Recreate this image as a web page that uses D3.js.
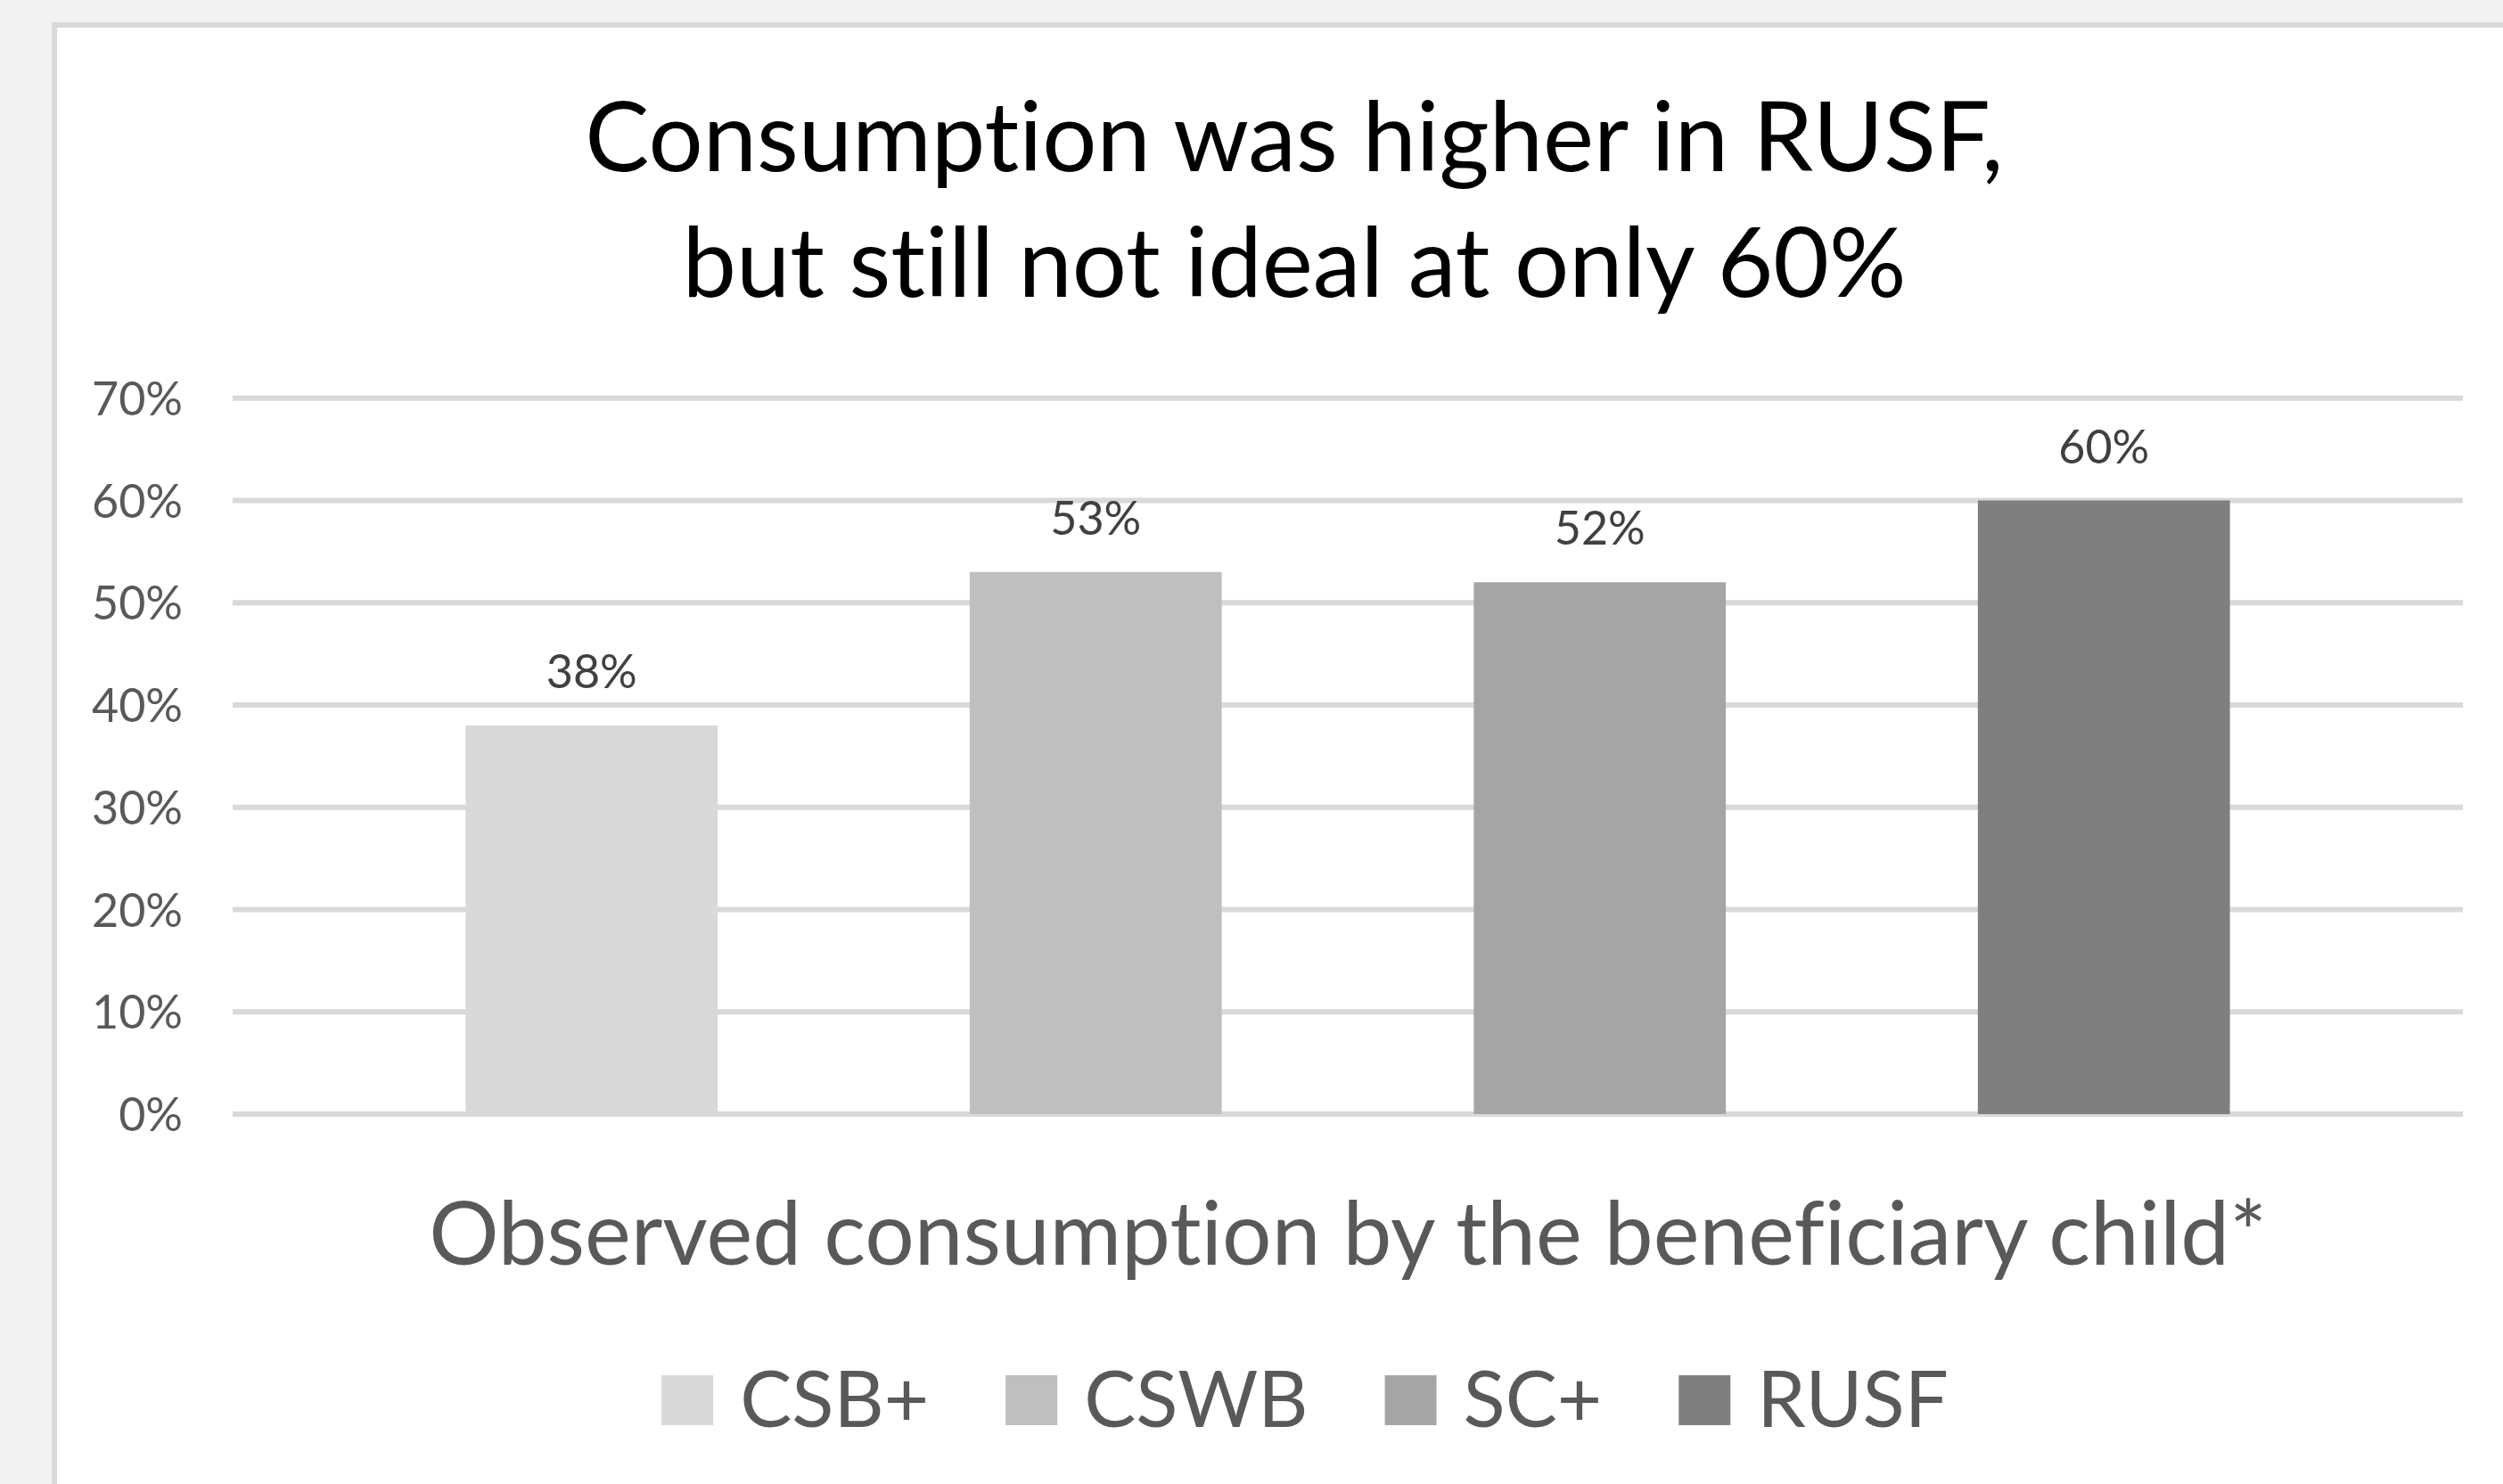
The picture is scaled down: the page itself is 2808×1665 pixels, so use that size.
<!DOCTYPE html>
<html>
<head>
<meta charset="utf-8">
<script src="https://cdn.jsdelivr.net/npm/d3@7"></script>
<style>
	html, body { margin: 0; padding: 0; background: #f2f2f2; overflow: hidden; }
	svg { display: block; font-family: Lato, "Noto Sans", sans-serif; font-variant-ligatures: none; }
</style>
</head>
<body>
<svg id="chart" width="2808" height="1665"></svg>
<script>
var categories = ["CSB+", "CSWB", "SC+", "RUSF"];
var consumption = [0.38, 0.53, 0.52, 0.60];
var yTicks = [0, 0.1, 0.2, 0.3, 0.4, 0.5, 0.6, 0.7];
var titleLines = ["Consumption was higher in RUSF,", "but still not ideal at only 60%"];
var axisTitle = "Observed consumption by the beneficiary child*";

var svg = d3.select("#chart");

// white chart panel with the light grey frame
svg.append("rect")
	.attr("x", 61)
	.attr("y", 28)
	.attr("width", 3000)
	.attr("height", 2000)
	.attr("fill", "#fff")
	.attr("stroke", "#d9d9d9")
	.attr("stroke-width", 6);

var gridLeft = 261, gridRight = 2763;

var x = d3.scaleBand()
	.domain(categories)
	.range([381, 2643])
	.paddingInner(0.5)
	.paddingOuter(0.25);

var y = d3.scaleLinear()
	.domain([0, 0.7])
	.range([1250, 446.75]);

var color = d3.scaleOrdinal()
	.domain(categories)
	.range(["#d9d9d9", "#bfbfbf", "#a5a5a5", "#7f7f7f"]);

var pct = d3.format(".0%");

// gridlines
svg.append("g")
	.selectAll("line")
	.data(yTicks)
	.enter().append("line")
	.attr("x1", gridLeft)
	.attr("x2", gridRight)
	.attr("y1", function (d) { return y(d); })
	.attr("y2", function (d) { return y(d); })
	.attr("stroke", "#d9d9d9")
	.attr("stroke-width", 6);

// y axis labels
var yAxis = svg.append("g")
	.attr("transform", "translate(" + 232 + ",0)")
	.call(d3.axisLeft(y).tickValues(yTicks).tickFormat(pct).tickSize(0).tickPadding(27));
yAxis.select(".domain").remove();
yAxis.selectAll("text")
	.attr("fill", "#595959")
	.attr("font-size", "52px")
	.attr("font-family", "Lato, sans-serif")
	.attr("dy", "0.36em");

// bars
svg.append("g")
	.selectAll(".bar")
	.data(categories)
	.enter().append("rect")
	.attr("class", "bar")
	.attr("x", function (d) { return x(d); })
	.attr("y", function (d, i) { return y(consumption[i]); })
	.attr("width", x.bandwidth())
	.attr("height", function (d, i) { return y(0) - y(consumption[i]); })
	.attr("fill", function (d) { return color(d); });

// data labels
svg.append("g")
	.selectAll("text")
	.data(categories)
	.enter().append("text")
	.attr("x", function (d) { return x(d) + x.bandwidth() / 2; })
	.attr("y", function (d, i) { return y(consumption[i]) - 42; })
	.attr("text-anchor", "middle")
	.attr("font-size", "52px")
	.attr("fill", "#404040")
	.text(function (d, i) { return pct(consumption[i]); });

// title
svg.append("g")
	.selectAll("text")
	.data(titleLines)
	.enter().append("text")
	.attr("x", 1452)
	.attr("y", function (d, i) { return 192 + i * 141; })
	.attr("text-anchor", "middle")
	.attr("font-size", "108px")
	.attr("fill", "#000")
	.text(function (d) { return d; });

// category axis title
svg.append("text")
	.attr("x", (gridLeft + gridRight) / 2)
	.attr("y", 1419)
	.attr("text-anchor", "middle")
	.attr("font-size", "98px")
	.attr("fill", "#595959")
	.text(axisTitle);

// legend
var legend = svg.append("g");
var items = legend.selectAll("g")
	.data(categories)
	.enter().append("g");
items.append("rect")
	.attr("width", 58)
	.attr("height", 56)
	.attr("y", 1543)
	.attr("fill", function (d) { return color(d); });
items.append("text")
	.attr("x", 88)
	.attr("y", 1601)
	.attr("font-size", "87px")
	.attr("fill", "#595959")
	.text(function (d) { return d; });

var offsets = [], cursor = 0;
items.each(function () {
	offsets.push(cursor);
	cursor += 88 + d3.select(this).select("text").node().getComputedTextLength() + 86;
});
var legendWidth = cursor - 86;
var legendStart = 1464 - legendWidth / 2;
items.attr("transform", function (d, i) { return "translate(" + (legendStart + offsets[i]) + ",0)"; });
</script>
</body>
</html>
